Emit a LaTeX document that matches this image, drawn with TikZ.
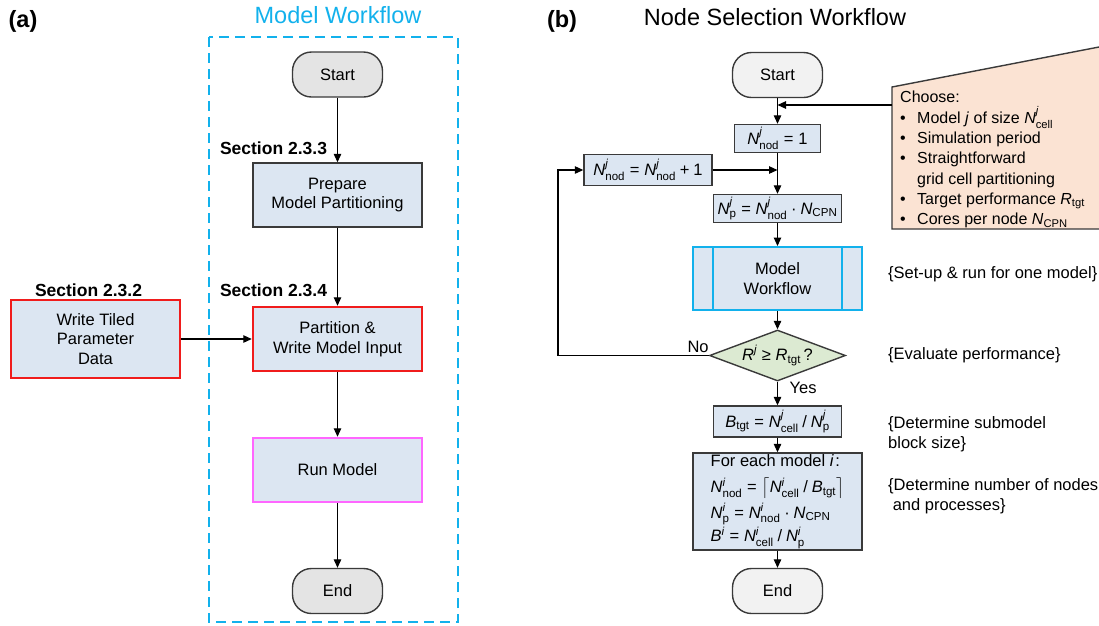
\documentclass[tikz,border=0pt]{standalone}
\usepackage{fontspec}
\setmainfont{Liberation Sans}
\usepackage{amsmath}
\usetikzlibrary{shapes.geometric,arrows.meta,calc}
\definecolor{boxfill}{HTML}{DCE6F2}
\definecolor{boxline}{HTML}{3A3A3A}
\definecolor{pillL}{HTML}{E4E4E4}
\definecolor{pillR}{HTML}{F2F2F2}
\definecolor{redln}{HTML}{F01C1C}
\definecolor{magln}{HTML}{FF66FF}
\definecolor{cyanln}{HTML}{12B1EC}
\definecolor{diafill}{HTML}{DCEAD2}
\definecolor{peach}{HTML}{FBE3D3}
\newcommand{\fs}{\fontsize{16.5}{19.5}\selectfont}
\newcommand{\fsb}{\fontsize{17.5}{20}\selectfont\bfseries}
\newcommand{\fsm}{\fontsize{16}{20.3}\selectfont}
\newcommand{\fsbig}{\fontsize{23.5}{28}\selectfont}
\newcommand{\mi}[1]{\text{\itshape #1}}
\newcommand{\ms}[1]{\text{\upshape #1}}
\newcommand{\NN}[2]{\mi{N}^{\mi{#1}}_{\ms{#2}}}
\newcommand{\eqs}{\mathrel{\ms{=}}}
\newcommand{\dotop}{\mathbin{\ms{·}}}
\newcommand{\plusop}{\mathbin{\ms{+}}}
\newcommand{\slsh}{\mathbin{\ms{/}}}
\begin{document}
\begin{tikzpicture}[x=1pt,y=-1pt,
  box/.style={draw=boxline, fill=boxfill, line width=1.4pt, minimum width=169pt,
    minimum height=64pt, align=center, inner sep=0pt, font=\fs},
  pillA/.style={draw=boxline, fill=pillL, line width=1.4pt, rounded corners=19pt,
    minimum width=90pt, minimum height=45pt, inner sep=0pt, font=\fs},
  pillB/.style={pillA, fill=pillR},
  arr/.style={-{Triangle[length=8.5pt,width=7.5pt]}, line width=1.1pt, draw=black},
  sec/.style={font=\fsb},
  note/.style={font=\fs, anchor=west, align=left, inner sep=0pt},
  dia/.style={diamond, draw=boxline, fill=diafill, line width=1.4pt, aspect=2.67,
    inner sep=0pt, minimum width=136pt, minimum height=51pt, font=\fs}
]
\useasboundingbox (0,0) rectangle (1099,625);

% ---------------- (a) ----------------
\node[font=\fsbig\bfseries] (labA) at (23,21) {(a)};
\node[font=\fsbig, text=cyanln] (titA) at (338,15) {Model Workflow};
\draw[cyanln, line width=2pt, dash pattern=on 10pt off 6pt] (209,37) rectangle (458,622);

\node[pillA] (sA) at (337.5,74.5) {Start};
\node[box] (prep) at (337.5,195) {Prepare\\Model Partitioning};
\node[box, draw=redln, line width=2.5pt] (part) at (337.5,339) {Partition \&\\Write Model Input};
\node[box, draw=redln, line width=2.5pt, minimum height=78pt] (tiled) at (95.5,339) {Write Tiled\\Parameter\\Data};
\node[box, draw=magln, line width=2.5pt] (run) at (337.5,470) {Run Model};
\node[pillA] (eA) at (337.5,591) {End};

\node[sec] (s233) at (273.5,148) {Section 2.3.3};
\node[sec] (s234) at (273.5,290) {Section 2.3.4};
\node[sec] (s232) at (88.5,290) {Section 2.3.2};

\draw[arr] (sA) -- (prep);
\draw[arr] (prep) -- (part);
\draw[arr] (part) -- (run);
\draw[arr] (run) -- (eA);
\draw[arr] (tiled) -- (part);

% ---------------- (b) ----------------
\node[font=\fsbig\bfseries] (labB) at (562,21) {(b)};
\node[font=\fsbig] (titB) at (775,17) {Node Selection Workflow};

\fill[peach] (1099,47) -- (892,87) -- (892,229) -- (1099,229) -- cycle;
\draw[boxline, line width=1.4pt] (1099,47) -- (892,87) -- (892,229) -- (1099,229);
\node[anchor=north west, align=left, font=\fsm, inner sep=0pt] (choose) at (900,91)
 {Choose:\\
  \makebox[5pt][l]{•}\hspace{12pt}Model \textit{j} of size $\NN{j}{cell}$\\
  \makebox[5pt][l]{•}\hspace{12pt}Simulation period\\
  \makebox[5pt][l]{•}\hspace{12pt}Straightforward\\
  \hspace*{17pt}grid cell partitioning\\
  \makebox[5pt][l]{•}\hspace{12pt}Target performance $\mi{R}_{\ms{tgt}}$\\
  \makebox[5pt][l]{•}\hspace{12pt}Cores per node $\mi{N}_{\ms{CPN}}$};

\node[pillB] (sB) at (777.5,75) {Start};
\node[box, minimum width=86pt, minimum height=28pt] (nod1) at (777.5,138.5) {$\NN{j}{nod}\eqs\ms{1}$};
\node[box, minimum width=128pt, minimum height=31pt] (upd) at (648,170) {$\NN{j}{nod}\eqs\NN{j}{nod}\plusop\ms{1}$};
\node[box, minimum width=128pt, minimum height=28pt] (np) at (777.5,208.5) {$\NN{j}{p}\eqs\NN{j}{nod}\dotop\mi{N}_{\ms{CPN}}$};
\node[box, draw=cyanln, line width=2pt, minimum height=63pt] (mw) at (777.5,278.5) {Model\\Workflow};
\draw[cyanln, line width=2pt] ([xshift=21pt]mw.north west) -- ([xshift=21pt]mw.south west);
\draw[cyanln, line width=2pt] ([xshift=-21pt]mw.north east) -- ([xshift=-21pt]mw.south east);
\node[dia] (dia) at (777.5,355.5) {$\mi{R}^{\mi{j}}\mathrel{\ms{≥}}\mi{R}_{\ms{tgt}}$\,?};
\node[box, minimum width=128pt, minimum height=31pt] (btgt) at (777.5,421.5) {$\mi{B}_{\ms{tgt}}\eqs\NN{j}{cell}\slsh\NN{j}{p}$};
\node[box, minimum height=97pt, align=left] (each) at (777.5,501.5)
 {For each model \textit{i}\kern1.5pt:\\[7pt]
  $\NN{i}{nod}\eqs\bigl\lceil\NN{i}{cell}\slsh\mi{B}_{\ms{tgt}}\bigr\rceil$\\[3pt]
  $\NN{i}{p}\eqs\NN{i}{nod}\dotop\mi{N}_{\ms{CPN}}$\\[1pt]
  $\mi{B}^{\mi{i}}\eqs\NN{i}{cell}\slsh\NN{i}{p}$};
\node[pillB] (eB) at (777.5,591) {End};

\node[font=\fs, anchor=east, inner sep=0pt] (no) at ([yshift=9pt]dia.west) {No};
\node[font=\fs, anchor=west, inner sep=0pt] (yes) at ([xshift=12pt,yshift=-6pt]dia.south) {Yes};

\node[note] (n1) at (888,274) {\{Set-up \& run for one model\}};
\node[note] (n2) at (888,355.5) {\{Evaluate performance\}};
\node[note] (n3) at (888,434) {\{Determine submodel\\block size\}};
\node[note] (n4) at (888,496) {\{Determine number of nodes\\\ and processes\}};

\coordinate (chL) at (892,105);
\coordinate (loopL) at (558,355.5);
\draw[arr] (sB) -- (nod1);
\draw[arr] (chL) -- (chL -| nod1.north);
\draw[arr] (nod1) -- (np);
\draw[arr] (upd.east) -- (upd.east -| np.north);
\draw[arr] (np) -- (mw);
\draw[arr] (mw) -- (dia);
\draw[arr] (dia) -- (btgt);
\draw[arr] (btgt) -- (each);
\draw[arr] (each) -- (eB);
\draw[arr] (dia.west) -- (loopL) |- (upd.west);
\end{tikzpicture}
\end{document}
